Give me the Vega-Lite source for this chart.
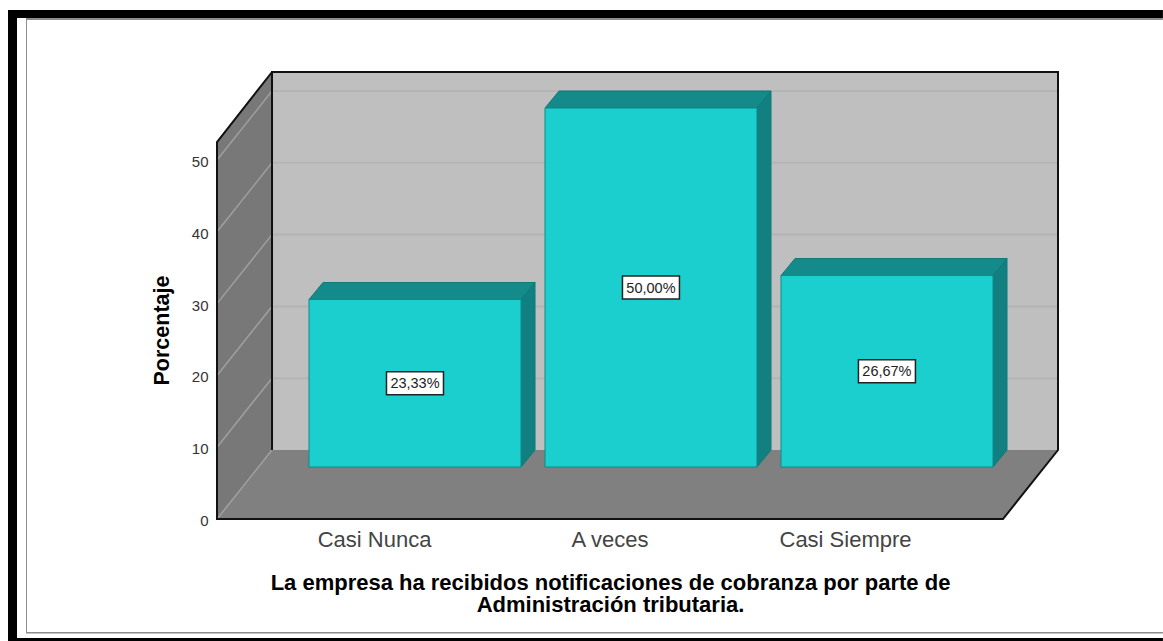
{
"$schema":"https://vega.github.io/schema/vega-lite/v6.json",
"width":786,"height":447,
"autosize":"none",
"padding":{"left":217,"top":72,"right":160,"bottom":122},
"background":"white",
"config":{"view":{"stroke":null},"font":"Liberation Sans"},
"resolve":{"axis":{"x":"independent","y":"independent"}},
"datasets":{
"rect":[
{"part":"marco","x":-0.5541,"x2":4.35,"y":70.89,"y2":69.78},
{"part":"marco","x":-0.5541,"x2":-0.5159,"y":70.89,"y2":-16.99},
{"part":"marco","x":-0.5541,"x2":4.35,"y":-16.57,"y2":-16.99},
{"part":"filete","x":-0.4777,"x2":4.35,"y":69.78,"y2":69.5},
{"part":"filete","x":-0.4777,"x2":-0.4735,"y":69.5,"y2":-15.74},
{"part":"filete","x":-0.4777,"x2":4.35,"y":-15.74,"y2":-15.95},
{"part":"fondo","x":0.5669,"x2":3.9045,"y":62.26,"y2":9.61}
],
"rejilla":[
{"valor":10,"y":19.61},{"valor":20,"y":29.61},{"valor":30,"y":39.61},{"valor":40,"y":49.61},{"valor":50,"y":59.61}
],
"pared":[
{"x":0.3333,"y":52.5,"y2":0},
{"x":0.5669,"y":62.26,"y2":9.61}
],
"suelo":[
{"y":0,"x":0.3333,"x2":3.6709},
{"y":9.61,"x":0.5669,"x2":3.9045}
],
"diagonales":[
{"valor":0,"x":0.3333,"y":0},{"valor":0,"x":0.5669,"y":9.61},
{"valor":10,"x":0.3333,"y":10},{"valor":10,"x":0.5669,"y":19.61},
{"valor":20,"x":0.3333,"y":20},{"valor":20,"x":0.5669,"y":29.61},
{"valor":30,"x":0.3333,"y":30},{"valor":30,"x":0.5669,"y":39.61},
{"valor":40,"x":0.3333,"y":40},{"valor":40,"x":0.5669,"y":49.61},
{"valor":50,"x":0.3333,"y":50},{"valor":50,"x":0.5669,"y":59.61}
],
"bordes":[
{"o":1,"x":0.5669,"y":9.61},{"o":2,"x":0.5669,"y":62.26},{"o":3,"x":3.9045,"y":62.26},{"o":4,"x":3.9045,"y":9.61},{"o":5,"x":3.6709,"y":0},{"o":6,"x":0.3333,"y":0},{"o":7,"x":0.3333,"y":52.5},{"o":8,"x":0.5669,"y":62.26}
],
"lados":[
{"cat":"Casi Nunca","x":1.6242,"y":30.57,"y2":7.24},{"cat":"Casi Nunca","x":1.6837,"y":32.94,"y2":9.61},
{"cat":"A veces","x":2.6263,"y":57.24,"y2":7.24},{"cat":"A veces","x":2.6858,"y":59.61,"y2":9.61},
{"cat":"Casi Siempre","x":3.6285,"y":33.91,"y2":7.24},{"cat":"Casi Siempre","x":3.6879,"y":36.28,"y2":9.61}
],
"techos":[
{"cat":"Casi Nunca","y":30.57,"x":0.724,"x2":1.6242},{"cat":"Casi Nunca","y":32.94,"x":0.7834,"x2":1.6837},
{"cat":"A veces","y":57.24,"x":1.7261,"x2":2.6263},{"cat":"A veces","y":59.61,"x":1.7856,"x2":2.6858},
{"cat":"Casi Siempre","y":33.91,"x":2.7282,"x2":3.6285},{"cat":"Casi Siempre","y":36.28,"x":2.7877,"x2":3.6879}
],
"barras":[
{"cat":"Casi Nunca","pct":23.33,"mitad":11.665,"x":0.724,"x2":1.6242,"xc":1.174,"etiqueta":"23,33%"},
{"cat":"A veces","pct":50,"mitad":25,"x":1.7261,"x2":2.6263,"xc":2.176,"etiqueta":"50,00%"},
{"cat":"Casi Siempre","pct":26.67,"mitad":13.335,"x":2.7282,"x2":3.6285,"xc":3.178,"etiqueta":"26,67%"}
]
},
"layer":[
{"data":{"name":"rect"},
 "mark":{"type":"rect"},
 "encoding":{
  "x":{"field":"x","type":"quantitative","scale":{"domain":[0.3333,3.6709],"nice":false,"zero":false},
   "axis":{"values":[1,2,3],"labelExpr":"datum.value==1?'Casi Nunca':datum.value==2?'A veces':'Casi Siempre'","grid":false,"domain":false,"ticks":false,"labelFont":"Liberation Sans","labelFontSize":22,"labelColor":"#444444","labelPadding":10,"labelFlush":false,
    "title":["La empresa ha recibidos notificaciones de cobranza por parte de","Administración tributaria."],"titleFont":"Liberation Sans","titleFontSize":22,"titleFontWeight":"bold","titleColor":"#000000","titleLineHeight":22,"titlePadding":22}},
  "x2":{"field":"x2"},
  "y":{"field":"y","type":"quantitative","scale":{"domain":[0,62.26],"nice":false,"zero":false},
   "axis":{"values":[0,10,20,30,40,50],"grid":false,"domain":false,"ticks":false,"labelFont":"Liberation Sans","labelFontSize":15,"labelColor":"#333333","labelPadding":9,"labelOffset":1.5,
    "title":"Porcentaje","titleFont":"Liberation Sans","titleFontSize":21.5,"titleFontWeight":"bold","titleColor":"#000000","titleX":-44,"titleY":258}},
  "y2":{"field":"y2"},
  "color":{"field":"part","type":"nominal","legend":null,"scale":{"domain":["marco","filete","fondo"],"range":["#000000","#8c8c8c","#bfbfbf"]}}
 }},
{"data":{"name":"rejilla"},
 "mark":{"type":"rule","color":"#b4b4b4","strokeWidth":2},
 "encoding":{"y":{"field":"y","type":"quantitative","axis":null},"x":{"datum":0.5669,"type":"quantitative","axis":null},"x2":{"datum":3.9045}}},
{"data":{"name":"pared"},
 "mark":{"type":"area","orient":"vertical","color":"#787878"},
 "encoding":{"x":{"field":"x","type":"quantitative","axis":null},"y":{"field":"y","type":"quantitative","axis":null},"y2":{"field":"y2"}}},
{"data":{"name":"suelo"},
 "mark":{"type":"area","orient":"horizontal","color":"#808080"},
 "encoding":{"y":{"field":"y","type":"quantitative","axis":null},"x":{"field":"x","type":"quantitative","axis":null},"x2":{"field":"x2"}}},
{"data":{"name":"diagonales"},
 "mark":{"type":"line","color":"#a0a0a0","strokeWidth":1.5},
 "encoding":{"detail":{"field":"valor"},"x":{"field":"x","type":"quantitative","axis":null},"y":{"field":"y","type":"quantitative","axis":null}}},
{"data":{"name":"bordes"},
 "mark":{"type":"line","color":"#111111","strokeWidth":2},
 "encoding":{"order":{"field":"o"},"x":{"field":"x","type":"quantitative","axis":null},"y":{"field":"y","type":"quantitative","axis":null}}},
{"data":{"name":"lados"},
 "mark":{"type":"area","orient":"vertical","color":"#128080","stroke":"#0f7a7a","strokeWidth":1},
 "encoding":{"detail":{"field":"cat"},"x":{"field":"x","type":"quantitative","axis":null},"y":{"field":"y","type":"quantitative","axis":null},"y2":{"field":"y2"}}},
{"data":{"name":"techos"},
 "mark":{"type":"area","orient":"horizontal","color":"#148a8a","stroke":"#0f7a7a","strokeWidth":1},
 "encoding":{"detail":{"field":"cat"},"y":{"field":"y","type":"quantitative","axis":null},"x":{"field":"x","type":"quantitative","axis":null},"x2":{"field":"x2"}}},
{"data":{"name":"barras"},
 "mark":{"type":"rect","color":"#1bcfcf","stroke":"#0f8a8a","strokeWidth":1,"yOffset":-52,"y2Offset":-52},
 "encoding":{"x":{"field":"x","type":"quantitative","axis":null},"x2":{"field":"x2"},"y":{"field":"pct","type":"quantitative","axis":null},"y2":{"datum":0}}},
{"data":{"name":"barras"},
 "mark":{"type":"rect","fill":"#ffffff","stroke":"#222222","strokeWidth":1.5,"width":57,"height":23,"yOffset":-52},
 "encoding":{"x":{"field":"xc","type":"quantitative","axis":null},"y":{"field":"mitad","type":"quantitative","axis":null}}},
{"data":{"name":"barras"},
 "mark":{"type":"text","font":"Liberation Sans","fontSize":14.5,"color":"#222222","yOffset":-51},
 "encoding":{"x":{"field":"xc","type":"quantitative","axis":null},"y":{"field":"mitad","type":"quantitative","axis":null},"text":{"field":"etiqueta"}}}
]
}
